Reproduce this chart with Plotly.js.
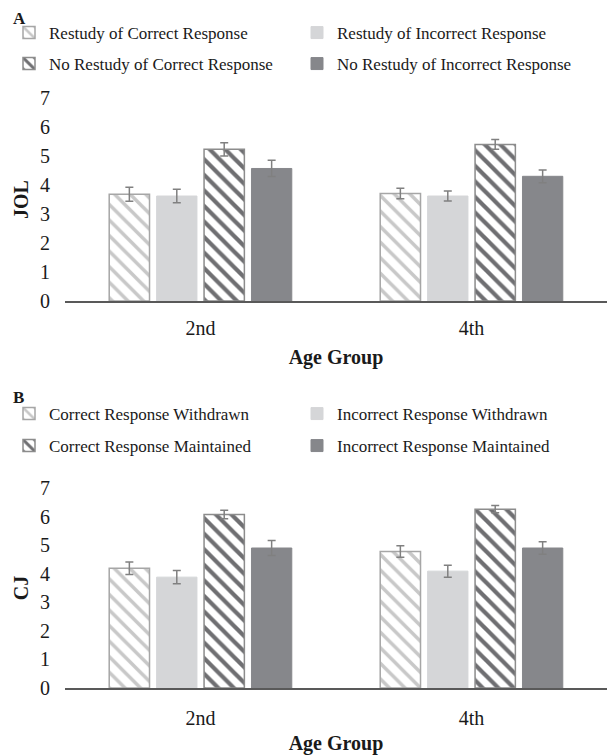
<!DOCTYPE html>
<html>
<head>
<meta charset="utf-8">
<script src="https://cdn.plot.ly/plotly-3.0.1.min.js"></script>
<style>html,body{margin:0;padding:0;background:#fff;}#chart{width:609px;height:755px;}</style>
</head>
<body>
<div id="chart"></div>
<script>
const ageGroups = ['2nd', '4th'];
const yTicks = [0, 1, 2, 3, 4, 5, 6, 7];

// Panel A (JOL)
const namesA = ['Restudy of Correct Response', 'Restudy of Incorrect Response',
                'No Restudy of Correct Response', 'No Restudy of Incorrect Response'];
const jolRestudyCorrect = [3.68, 3.71];
const jolRestudyIncorrect = [3.62, 3.62];
const jolNoRestudyCorrect = [5.23, 5.40];
const jolNoRestudyIncorrect = [4.57, 4.30];
const jolErrRestudyCorrect = [0.24, 0.18];
const jolErrRestudyIncorrect = [0.23, 0.17];
const jolErrNoRestudyCorrect = [0.23, 0.17];
const jolErrNoRestudyIncorrect = [0.28, 0.22];

// Panel B (CJ)
const namesB = ['Correct Response Withdrawn', 'Incorrect Response Withdrawn',
                'Correct Response Maintained', 'Incorrect Response Maintained'];
const cjCorrectWithdrawn = [4.19, 4.78];
const cjIncorrectWithdrawn = [3.88, 4.09];
const cjCorrectMaintained = [6.07, 6.26];
const cjIncorrectMaintained = [4.90, 4.90];
const cjErrCorrectWithdrawn = [0.22, 0.20];
const cjErrIncorrectWithdrawn = [0.23, 0.21];
const cjErrCorrectMaintained = [0.15, 0.13];
const cjErrIncorrectMaintained = [0.26, 0.22];

const FONT = 'Liberation Serif, Times New Roman, serif';
const TXT = '#1a1a1a';

const styles = [
  {color: '#ffffff', line: {color: '#a6a6a6', width: 1.5},
   pattern: {shape: '\\', fgcolor: '#c8c8c8', bgcolor: '#ffffff', size: 11, solidity: 0.32}},
  {color: '#d5d6d8', line: {color: '#d5d6d8', width: 1}},
  {color: '#ffffff', line: {color: '#8c8c8c', width: 1.5},
   pattern: {shape: '\\', fgcolor: '#6f6f72', bgcolor: '#ffffff', size: 11, solidity: 0.38}},
  {color: '#86878b', line: {color: '#86878b', width: 1}}
];

function mk(name, vals, errs, i, xa, ya, leg) {
  return {
    type: 'bar', name: name, x: ageGroups, y: vals,
    xaxis: xa, yaxis: ya, legend: leg,
    marker: styles[i],
    error_y: {type: 'data', array: errs, visible: true, color: '#808080', thickness: 1.5, width: 4}
  };
}

const data = [
  mk(namesA[0], jolRestudyCorrect, jolErrRestudyCorrect, 0, 'x', 'y', 'legend'),
  mk(namesA[1], jolRestudyIncorrect, jolErrRestudyIncorrect, 1, 'x', 'y', 'legend'),
  mk(namesA[2], jolNoRestudyCorrect, jolErrNoRestudyCorrect, 2, 'x', 'y', 'legend2'),
  mk(namesA[3], jolNoRestudyIncorrect, jolErrNoRestudyIncorrect, 3, 'x', 'y', 'legend2'),
  mk(namesB[0], cjCorrectWithdrawn, cjErrCorrectWithdrawn, 0, 'x2', 'y2', 'legend3'),
  mk(namesB[1], cjIncorrectWithdrawn, cjErrIncorrectWithdrawn, 1, 'x2', 'y2', 'legend3'),
  mk(namesB[2], cjCorrectMaintained, cjErrCorrectMaintained, 2, 'x2', 'y2', 'legend4'),
  mk(namesB[3], cjIncorrectMaintained, cjErrIncorrectMaintained, 3, 'x2', 'y2', 'legend4')
];

const H = 755, W = 609;
const xdom = [65 / W, 607 / W];

function xax(anchor, tso, standoff) {
  return {
    domain: xdom, anchor: anchor, type: 'category',
    showline: true, linecolor: '#595959', linewidth: 1.5,
    ticks: '', showgrid: false, zeroline: false,
    ticklabelstandoff: tso,
    tickfont: {family: FONT, size: 20, color: TXT},
    title: {text: '<b>Age Group</b>', font: {family: FONT, size: 20, color: TXT}, standoff: standoff}
  };
}
function yax(anchor, dom, title) {
  return {
    domain: dom, anchor: anchor, range: [0, 7], tickvals: yTicks,
    showline: false, showgrid: false, zeroline: false, ticks: '',
    ticklabelstandoff: 14,
    tickfont: {family: FONT, size: 20, color: TXT},
    title: {text: '<b>' + title + '</b>', font: {family: FONT, size: 20, color: TXT}, standoff: 6}
  };
}

function leg(yPix) {
  return {
    orientation: 'h', x: 9 / W, xanchor: 'left', y: 1 - yPix / H, yanchor: 'middle',
    entrywidth: 243, entrywidthmode: 'pixels', itemwidth: 30,
    font: {family: FONT, size: 17, color: TXT},
    bgcolor: 'rgba(0,0,0,0)', traceorder: 'normal'
  };
}

const layout = {
  width: W, height: H,
  margin: {l: 0, r: 0, t: 0, b: 0},
  paper_bgcolor: '#ffffff', plot_bgcolor: '#ffffff',
  barmode: 'group', bargap: 0.30, bargroupgap: 0.15,
  font: {family: FONT, color: TXT},
  xaxis: xax('y', 8, 12),
  yaxis: yax('x', [1 - 301 / H, 1 - 98 / H], 'JOL'),
  xaxis2: xax('y2', 11, 9),
  yaxis2: yax('x2', [1 - 688 / H, 1 - 488 / H], 'CJ'),
  legend: leg(33),
  legend2: leg(64),
  legend3: leg(414),
  legend4: leg(446),
  annotations: [
    {text: '<b>A</b>', x: 11 / W, y: 1 - 18 / H, xref: 'paper', yref: 'paper', xanchor: 'left', yanchor: 'middle',
     showarrow: false, font: {family: FONT, size: 17, color: TXT}},
    {text: '<b>B</b>', x: 11 / W, y: 1 - 397 / H, xref: 'paper', yref: 'paper', xanchor: 'left', yanchor: 'middle',
     showarrow: false, font: {family: FONT, size: 17, color: TXT}}
  ],
  showlegend: true
};

Plotly.newPlot('chart', data, layout, {displayModeBar: false, staticPlot: true});
</script>
</body>
</html>
